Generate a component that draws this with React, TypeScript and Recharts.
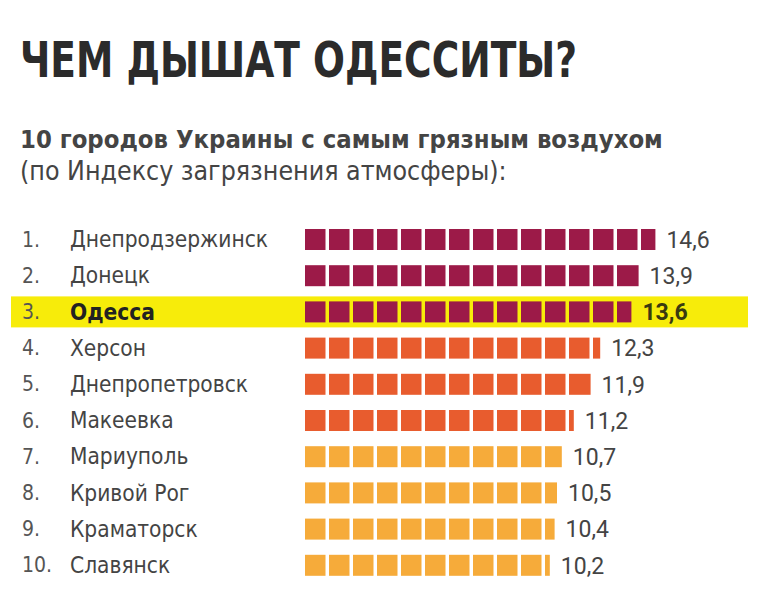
import React from "react";
import { BarChart, Bar, XAxis, YAxis, LabelList } from "recharts";

const ranks = ["1.", "2.", "3.", "4.", "5.", "6.", "7.", "8.", "9.", "10."];
const cities = [
  "Днепродзержинск",
  "Донецк",
  "Одесса",
  "Херсон",
  "Днепропетровск",
  "Макеевка",
  "Мариуполь",
  "Кривой Рог",
  "Краматорск",
  "Славянск",
];
const values = [14.6, 13.9, 13.6, 12.3, 11.9, 11.2, 10.7, 10.5, 10.4, 10.2];
const groups = [0, 0, 0, 1, 1, 1, 2, 2, 2, 2];
const highlightCity = "Одесса";

const groupColors = ["#9c1a48", "#e85c2e", "#f6ab3a"];
const labelFont = "'DejaVu Sans Condensed', 'Liberation Sans Narrow', Roboto, sans-serif";

const data = cities.map((c, i) => ({
  city: c,
  rank: ranks[i],
  value: values[i],
  group: groups[i],
}));

const SegmentBar = (props: any) => {
  const { x, y, width, height, payload } = props;
  const v = payload.value;
  const unit = width / v;
  const gap = 3.5;
  const color = groupColors[payload.group];
  const rects = [];
  const n = Math.ceil(v);
  for (let i = 0; i < n; i++) {
    const sx = x + i * unit;
    const remaining = x + width - sx;
    const w = remaining >= unit ? unit - gap : remaining;
    rects.push(
      <rect key={i} x={sx} y={y} width={Math.max(w, 0)} height={height} fill={color} />
    );
  }
  const isHi = payload.city === highlightCity;
  const cy = y + height / 2;
  return (
    <g>
      {isHi && <rect x={11} y={cy - 15.5} width={737} height={31} fill="#f7ec0a" />}
      {rects}
    </g>
  );
};

const CityTick = (props: any) => {
  const { y, payload, index } = props;
  const city = payload.value;
  const isHi = city === highlightCity;
  return (
    <g>
      <text
        x={22}
        y={y}
        dy="0.36em"
        fontFamily={labelFont}
        fontSize={21}
        fill="#555"
      >
        {ranks[index]}
      </text>
      <text
        x={70}
        y={y}
        dy="0.36em"
        fontFamily={labelFont}
        fontSize={22.5}
        fontWeight={isHi ? 700 : 400}
        fill={isHi ? "#222" : "#444"}
      >
        {city}
      </text>
    </g>
  );
};

const ValueLabel = (props: any) => {
  const { x, y, width, height, value, index } = props;
  const isHi = cities[index] === highlightCity;
  return (
    <text
      x={x + width + 11}
      y={y + height / 2}
      dy="0.36em"
      fontFamily="Roboto, 'Open Sans', sans-serif"
      fontSize={23}
      fontWeight={isHi ? 700 : 400}
      fill={isHi ? "#3a3a10" : "#444"}
    >
      {String(value).replace(".", ",")}
    </text>
  );
};

export default function App() {
  return (
    <div
      style={{
        position: "absolute",
        left: 0,
        top: 0,
        width: 769,
        height: 600,
        background: "#fff",
      }}
    >
      <div
        style={{
          position: "absolute",
          left: 20,
          top: 30,
          fontFamily: "'DejaVu Sans Condensed', sans-serif",
          fontWeight: 700,
          fontSize: 50,
          color: "#2b2b2b",
          whiteSpace: "nowrap",
          lineHeight: "60px",
          transform: "scaleX(0.835)",
          transformOrigin: "0 0",
        }}
      >
        ЧЕМ ДЫШАТ ОДЕССИТЫ?
      </div>
      <div
        style={{
          position: "absolute",
          left: 20,
          top: 124,
          fontFamily: labelFont,
          color: "#444",
          lineHeight: "31px",
          whiteSpace: "nowrap",
        }}
      >
        <div style={{ fontWeight: 700, fontSize: 25.4 }}>
          10 городов Украины с самым грязным воздухом
        </div>
        <div style={{ fontSize: 26.5 }}>(по Индексу загрязнения атмосферы):</div>
      </div>
      <div style={{ position: "absolute", left: 0, top: 0 }}>
        <BarChart
          width={769}
          height={600}
          data={data}
          layout="vertical"
          margin={{ top: 221, right: 32, bottom: 17, left: 0 }}
          barSize={21}
        >
          <YAxis
            type="category"
            dataKey="city"
            width={305}
            axisLine={false}
            tickLine={false}
            tick={<CityTick />}
            interval={0}
          />
          <XAxis type="number" domain={[0, 18]} hide />
          <Bar dataKey="value" shape={<SegmentBar />} isAnimationActive={false}>
            <LabelList dataKey="value" content={<ValueLabel />} />
          </Bar>
        </BarChart>
      </div>
    </div>
  );
}
